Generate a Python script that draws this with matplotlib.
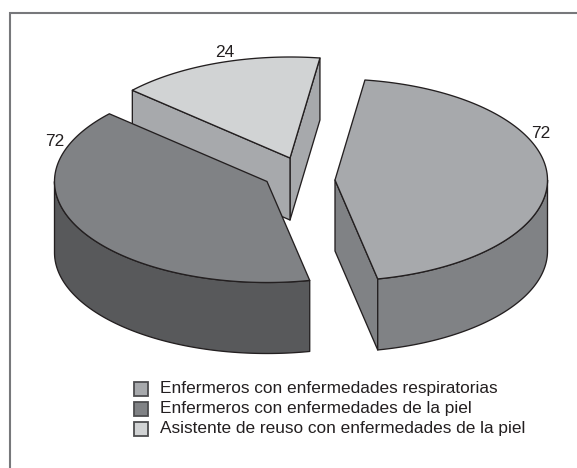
import numpy as np
import matplotlib
matplotlib.use("Agg")
import matplotlib.pyplot as plt
from matplotlib.patches import Polygon, Rectangle

plt.rcParams['font.family'] = ['Liberation Sans', 'DejaVu Sans']

# Data
categories = ["Enfermeros con enfermedades respiratorias",
              "Enfermeros con enfermedades de la piel",
              "Asistente de reuso con enfermedades de la piel"]
values = [72, 72, 24]
# drawn sweep of each slice, degrees on the ellipse, as seen in the picture
sweeps = [160.3, 143.7, 56.0]

# Styles / layout
W, H = 577, 468
start = 81.9
centers = [(335, 180), (267, 181.5), (290, 158)]
a, b = 212.5, 101
depths = [71, 71, 62]
top_cols = ['#a7a9ac', '#808285', '#d1d3d4']
rim_cols = ['#808285', '#58595b', '#a7a9ac']
label_pos = [(540.5, 133), (55, 141.5), (224.5, 52.5)]
EDGE = '#231f20'
LW = 0.95

fig = plt.figure(figsize=(W/100, H/100), dpi=100)
ax = fig.add_axes([0, 0, 1, 1])
ax.set_xlim(0, W); ax.set_ylim(H, 0); ax.axis('off')

ax.plot([10, 10, 577], [468, 13, 13], color='#77787b', lw=1.5, zorder=0, solid_joinstyle='miter')

def arc(c, t0, t1, n=120):
    t = np.radians(np.linspace(t0, t1, n))
    return np.column_stack([c[0] + a*np.cos(t), c[1] - b*np.sin(t)])

def poly(pts, fc, z):
    ax.add_patch(Polygon(pts, closed=True, fc=fc, ec=EDGE, lw=LW, joinstyle='round', zorder=z))

def draw_slice(i, t0, t1, z):
    c = centers[i]; d = depths[i]
    a0, a1 = arc(c, t0, t0, 1)[0], arc(c, t1, t1, 1)[0]
    down = np.array([0, d])
    cc = np.array(c, float)
    if i == 2:   # both cut faces visible, behind the others
        poly([a0, cc, cc+down, a0+down], rim_cols[i], z)
        poly([cc, a1, a1+down, cc+down], rim_cols[i], z)
    if i == 0:   # front cut face
        poly([cc, a0, a0+down, cc+down], rim_cols[i], z)
    # outer rim visible where the ellipse faces the viewer
    for base in (0, 360):
        lo, hi = max(t0, 180 + base), min(t1, 360 + base)
        if hi > lo:
            e = arc(c, lo, hi)
            poly(np.vstack([e, (e+down)[::-1]]), rim_cols[i], z)
    poly(np.vstack([cc, arc(c, t0, t1)]), top_cols[i], z+0.5)

# going counter-clockwise from the start angle: small slice, left slice, right slice
t2 = start + sweeps[2]
t1 = t2 + sweeps[1]
t0 = t1 + sweeps[0]
draw_slice(2, start, t2, 1)
draw_slice(1, t2, t1, 2)
draw_slice(0, t1, t0, 3)

FS = 12.4
for v, (x, y) in zip(values, label_pos):
    ax.text(x, y, str(v), ha='center', va='center', fontsize=FS, color='#231f20', zorder=6)

for i, (name, y) in enumerate(zip(categories, [388.5, 408.5, 428.5])):
    ax.add_patch(Rectangle((133.5, y-7), 14, 14, fc=top_cols[i], ec='#4d4d4f', lw=1.3, zorder=5))
    ax.text(160, y, name, ha='left', va='center', fontsize=FS, color='#231f20', zorder=6)

fig.savefig('out.png', dpi=100)
